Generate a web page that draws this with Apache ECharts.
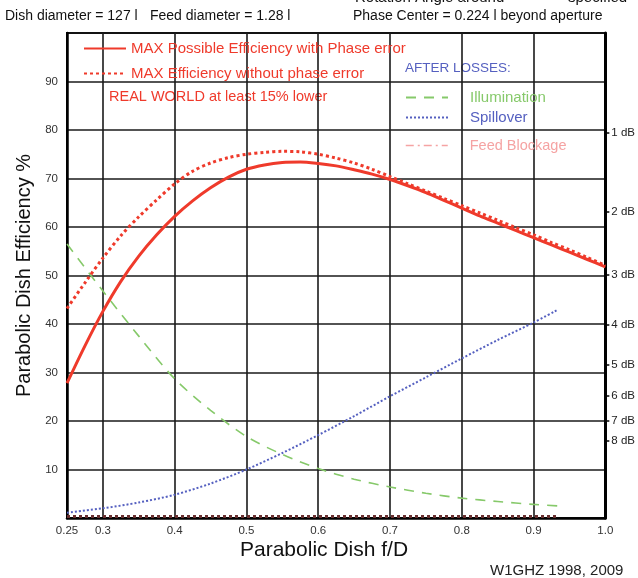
<!DOCTYPE html>
<html>
<head>
<meta charset="utf-8">
<script src="https://cdn.jsdelivr.net/npm/echarts@6/dist/echarts.min.js"></script>
<style>
html,body{margin:0;padding:0;background:#fff;}
#c{width:638px;height:578px;}
</style>
</head>
<body>
<div id="c"></div>
<script>
// ---- data ----
const fd = [0.25, 0.275, 0.3, 0.325, 0.35, 0.375, 0.4, 0.425, 0.45, 0.475, 0.5, 0.525, 0.55, 0.575, 0.6, 0.625,
            0.65, 0.675, 0.7, 0.725, 0.75, 0.775, 0.8, 0.825, 0.85, 0.875, 0.9, 0.925, 0.95, 0.975, 1.0];
const effWithPhase = [27.8, 35.5, 42.6, 48.8, 54.0, 58.4, 62.2, 65.4, 68.1, 70.3, 71.9, 72.8, 73.3, 73.4, 73.1, 72.6,
                      71.8, 70.9, 69.8, 68.5, 67.1, 65.5, 63.9, 62.3, 60.8, 59.3, 57.8, 56.3, 54.8, 53.3, 51.8];
const effNoPhase   = [43.2, 48.5, 53.6, 58.2, 62.1, 65.6, 68.9, 71.5, 73.2, 74.3, 75.0, 75.4, 75.6, 75.5, 75.0, 74.2,
                      73.2, 71.9, 70.4, 68.9, 67.4, 65.9, 64.4, 62.9, 61.4, 59.9, 58.4, 56.8, 55.3, 53.7, 52.1];
const fdLoss = [0.25, 0.3, 0.35, 0.4, 0.45, 0.5, 0.55, 0.6, 0.65, 0.7, 0.75, 0.8, 0.85, 0.9, 0.933];
const illumination = [56.5, 46.8, 37.5, 28.7, 22.2, 16.8, 13.1, 10.2, 8.0, 6.4, 5.1, 4.1, 3.4, 2.8, 2.5];
const spillover    = [1.1, 2.0, 3.2, 4.8, 7.1, 10.0, 13.4, 17.1, 21.0, 25.1, 29.0, 32.9, 36.7, 40.3, 42.9];
const feedBlockage = [0.3, 0.3, 0.3, 0.3, 0.3, 0.3, 0.3, 0.3, 0.3, 0.3, 0.3, 0.3, 0.3, 0.3, 0.3];
const xTickLabels = [0.25, 0.3, 0.4, 0.5, 0.6, 0.7, 0.8, 0.9, 1.0];
const xGridValues = [0.3, 0.4, 0.5, 0.6, 0.7, 0.8, 0.9];
const dbTicks = [1, 2, 3, 4, 5, 6, 7, 8];

const names = {
  s1: 'MAX Possible Efficiency with Phase error',
  s2: 'MAX Efficiency without phase error',
  s3: 'Illumination',
  s4: 'Spillover',
  s5: 'Feed Blockage'
};
const RED = '#ef3a2b', GREEN = '#86c96a', BLUE = '#5560c0', PINK = '#f5a3a3';
const FONT = 'Liberation Sans';

const pair = (xs, ys) => xs.map((x, i) => [x, ys[i]]);
const dbPercent = dbTicks.map(d => 100 * Math.pow(10, -d / 10));
const hiddenSymbol = {color: 'rgba(0,0,0,0)', borderWidth: 0, opacity: 0};

const chart = echarts.init(document.getElementById('c'), null, {renderer: 'canvas'});
chart.setOption({
  backgroundColor: '#fff',
  animation: false,
  textStyle: {fontFamily: FONT},
  grid: {left: 67, right: 32, top: 33, bottom: 60, show: true, borderColor: '#000', borderWidth: 2, backgroundColor: 'transparent'},
  xAxis: {
    type: 'value', min: 0.25, max: 1.0,
    axisLine: {lineStyle: {color: '#000', width: 2.5}},
    axisTick: {show: false, customValues: xGridValues},
    axisLabel: {customValues: xTickLabels, color: '#333', fontSize: 11.5, margin: 7,
      formatter: v => (Math.abs(v - 0.25) < 1e-6 ? '0.25' : v.toFixed(1))},
    splitLine: {show: true, lineStyle: {color: '#1a1a1a', width: 1.6}}
  },
  yAxis: [{
    type: 'value', min: 0, max: 100, interval: 10,
    name: 'Parabolic Dish Efficiency %', nameLocation: 'middle', nameGap: 26,
    nameTextStyle: {fontSize: 20, color: '#111', fontFamily: FONT},
    axisLine: {show: true, lineStyle: {color: '#000', width: 2.5}},
    axisTick: {show: false},
    axisLabel: {color: '#333', fontSize: 11.5, margin: 9, showMinLabel: false, showMaxLabel: false},
    splitLine: {show: true, lineStyle: {color: '#1a1a1a', width: 1.6}}
  }, {
    type: 'value', min: 0, max: 100, position: 'right',
    axisLine: {show: true, lineStyle: {color: '#000', width: 3}},
    axisTick: {show: true, customValues: dbPercent, length: 4, lineStyle: {color: '#000', width: 1.5}},
    axisLabel: {customValues: dbPercent, color: '#222', fontSize: 11.5, margin: 6,
      formatter: v => Math.round(-10 * Math.log10(v / 100)) + ' dB'},
    splitLine: {show: false}
  }],
  legend: [{
    data: [names.s1, names.s2], orient: 'vertical', left: 83, top: 41, padding: 0,
    itemWidth: 42, itemHeight: 14, itemGap: 10, itemStyle: hiddenSymbol,
    textStyle: {color: RED, fontSize: 15, lineHeight: 14, fontFamily: FONT}, selectedMode: false
  }, {
    data: [
      {name: names.s3, textStyle: {color: GREEN}},
      {name: names.s4, textStyle: {color: BLUE}}
    ],
    orient: 'vertical', left: 405, top: 90, padding: 0, itemWidth: 42, itemHeight: 14, itemGap: 5,
    itemStyle: hiddenSymbol,
    textStyle: {fontSize: 15, lineHeight: 14, padding: [0, 0, 0, 17], fontFamily: FONT}, selectedMode: false
  }, {
    data: [{name: names.s5, textStyle: {color: PINK}, lineStyle: {color: PINK, type: [8, 4, 2, 4], width: 1.5}}],
    orient: 'vertical', left: 405, top: 138, padding: 0, itemWidth: 42, itemHeight: 14,
    itemStyle: hiddenSymbol,
    textStyle: {fontSize: 14.5, lineHeight: 14, padding: [0, 0, 0, 17], fontFamily: FONT}, selectedMode: false
  }],
  graphic: [
    {type: 'text', left: 355, top: -10, style: {text: 'Rotation Angle around', fontSize: 15, fill: '#111', fontFamily: FONT}},
    {type: 'text', left: 568, top: -10, style: {text: 'specified', fontSize: 15, fill: '#111', fontFamily: FONT}},
    {type: 'text', left: 5, top: 9, style: {text: 'Dish diameter = 127 l', fontSize: 14, fill: '#111', fontFamily: FONT}},
    {type: 'text', left: 150, top: 9, style: {text: 'Feed diameter = 1.28 l', fontSize: 14, fill: '#111', fontFamily: FONT}},
    {type: 'text', left: 353, top: 9, style: {text: 'Phase Center = 0.224 l beyond aperture', fontSize: 14, fill: '#111', fontFamily: FONT}},
    {type: 'text', left: 109, top: 89, style: {text: 'REAL WORLD at least 15% lower', fontSize: 14.5, fill: RED, fontFamily: FONT}},
    {type: 'text', left: 405, top: 61, style: {text: 'AFTER LOSSES:', fontSize: 13.5, fill: BLUE, fontFamily: FONT}},
    {type: 'text', left: 240, top: 540, style: {text: 'Parabolic Dish f/D', fontSize: 21, fill: '#111', fontFamily: FONT}},
    {type: 'text', left: 490, top: 563, style: {text: 'W1GHZ 1998, 2009', fontSize: 15, fill: '#222', fontFamily: FONT}}
  ],
  series: [
    {name: names.s1, type: 'line', data: pair(fd, effWithPhase), smooth: 0.3, symbol: 'none',
      lineStyle: {color: RED, width: 3}, itemStyle: {color: RED}, z: 5},
    {name: names.s2, type: 'line', data: pair(fd, effNoPhase), smooth: 0.3, symbol: 'none',
      lineStyle: {color: RED, width: 3, type: [3, 3]}, itemStyle: {color: RED}, z: 4},
    {name: names.s3, type: 'line', data: pair(fdLoss, illumination), smooth: 0.3, symbol: 'none',
      lineStyle: {color: GREEN, width: 1.6, type: [10, 8]}, itemStyle: {color: GREEN}},
    {name: names.s4, type: 'line', data: pair(fdLoss, spillover), smooth: 0.3, symbol: 'none',
      lineStyle: {color: BLUE, width: 2, type: [2, 2]}, itemStyle: {color: BLUE}},
    {name: names.s5, type: 'line', data: pair(fdLoss, feedBlockage), symbol: 'none', clip: false,
      lineStyle: {color: '#6a3030', width: 3, type: [3, 3]}, itemStyle: {color: PINK}}
  ]
});
</script>
</body>
</html>
